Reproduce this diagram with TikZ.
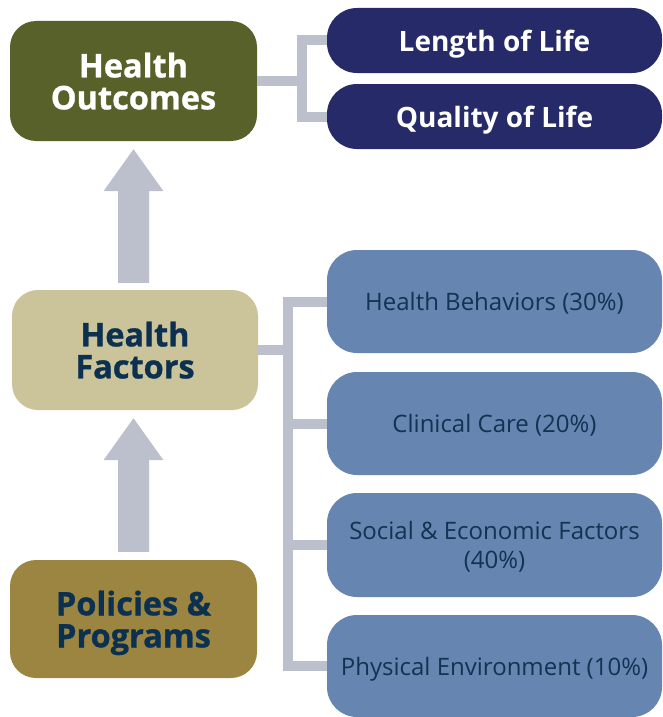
\documentclass[tikz,border=0pt]{standalone}
\usepackage{fontspec}
\setmainfont{Open Sans}
\newfontfamily\xbfont{Open Sans}[FakeBold=0.9]
\usetikzlibrary{calc}
\definecolor{olivebox}{RGB}{89,97,43}
\definecolor{navybox}{RGB}{38,42,104}
\definecolor{beigebox}{RGB}{203,195,154}
\definecolor{goldbox}{RGB}{155,133,65}
\definecolor{bluebox}{RGB}{102,133,176}
\definecolor{connc}{RGB}{188,192,204}
\definecolor{darktxt}{RGB}{12,48,80}
\definecolor{bluetxt}{RGB}{20,50,82}
\newcommand\bigup[2]{%
  \fill[connc] (#1) -- ($(#1)+(30,42)$) -- ($(#1)+(15.5,42)$) -- ($(#1 |- #2)+(15.5,0)$)
    -- ($(#1 |- #2)+(-15.5,0)$) -- ($(#1)+(-15.5,42)$) -- ($(#1)+(-30,42)$) -- cycle;}
\tikzset{
  mainbox/.style={rounded corners=26pt, minimum width=247pt, minimum height=120pt, inner sep=0pt,
    align=center, text depth=0pt, font=\xbfont\bfseries\fontsize{32.5}{32}\selectfont},
  lifebox/.style={fill=navybox, rounded corners=30pt, minimum width=335pt, minimum height=65pt,
    inner sep=0pt, text=white, text depth=0pt, font=\bfseries\fontsize{28}{30}\selectfont},
  factorbox/.style={fill=bluebox, rounded corners=30pt, minimum width=335pt, minimum height=103pt,
    inner sep=0pt, align=center, text=bluetxt, text depth=0pt, font=\fontsize{24}{29.5}\selectfont},
  conn/.style={draw=connc, line width=10pt, line join=miter},
}
\begin{document}
\begin{tikzpicture}[x=1pt,y=-1pt]
\useasboundingbox (0,0) rectangle (662,717);
% nodes
\node[mainbox, fill=olivebox, text=white] (ho) at (133.5,81) {Health\\Outcomes};
\node[mainbox, fill=beigebox, text=darktxt, minimum width=246pt] (hf) at (135,350) {Health\\Factors};
\node[mainbox, fill=goldbox, text=darktxt, minimum height=118pt] (pp) at (133.5,619) {Policies \&\\Programs};
\node[lifebox] (ll) at (494.5,40.5) {Length of Life};
\node[lifebox] (ql) at (494.5,116.5) {Quality of Life};
\node[factorbox] (hb) at (494.5,301.5) {Health Behaviors (30\%)};
\node[factorbox] (cc) at (494.5,423.5) {Clinical Care (20\%)};
\node[factorbox, minimum height=104pt] (se) at (494.5,545) {Social \& Economic Factors\\(40\%)};
\node[factorbox, minimum height=102pt] (pe) at (494.5,666) {Physical Environment (10\%)};
% junctions
\coordinate (j1) at (301.5,81);
\coordinate (j2) at (288,350);
% connectors: outcomes
\draw[conn] (ll.west) -- (ll.west -| j1) -- (ql.west -| j1) -- (ql.west);
\draw[conn] (ho.east) -- (ho.east -| j1);
% connectors: factors
\draw[conn] (hb.west) -- (hb.west -| j2) -- (pe.west -| j2) -- (pe.west);
\draw[conn] (cc.west) -- (cc.west -| j2);
\draw[conn] (se.west) -- (se.west -| j2);
\draw[conn] (hf.east) -- (hf.east -| j2);
% arrows
\path (ho.south) ++(0,8) coordinate (a1tip);
\path (hf.north) ++(0,-7) coordinate (a1base);
\bigup{a1tip}{a1base}
\path (hf.south) ++(-1.5,8) coordinate (a2tip);
\path (pp.north) ++(0,-8) coordinate (a2base);
\bigup{a2tip}{a2base}
\end{tikzpicture}
\end{document}
